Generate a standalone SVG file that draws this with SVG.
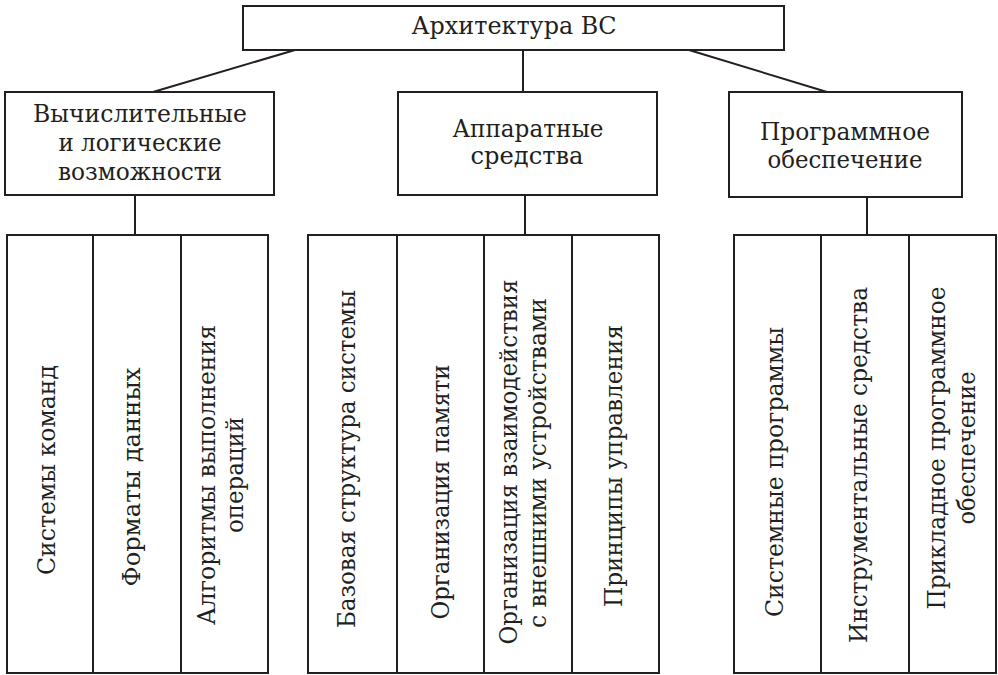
<svg xmlns="http://www.w3.org/2000/svg" width="998" height="675" viewBox="0 0 998 675">
<style>
.b{fill:#fff;stroke:#231f20;stroke-width:2}
.c{fill:none;stroke:#231f20;stroke-width:2}
.t{font-family:'DejaVu Serif Condensed','DejaVu Serif',serif;font-size:24px;fill:#231f20;text-anchor:middle}
</style>
<rect width="998" height="675" fill="#fff"/>
<g id="connectors">
<line class="c" x1="295" y1="50" x2="153" y2="92"/>
<line class="c" x1="523" y1="50" x2="523" y2="92"/>
<line class="c" x1="689" y1="50" x2="827" y2="92"/>
<line class="c" x1="135" y1="195" x2="135" y2="235"/>
<line class="c" x1="525" y1="195" x2="525" y2="235"/>
<line class="c" x1="867" y1="197" x2="867" y2="235"/>
</g>
<g id="root" class="t">
<rect class="b" x="243" y="6" width="541" height="44"/>
<text x="514" y="34" textLength="205" lengthAdjust="spacingAndGlyphs">Архитектура ВС</text>
</g>
<g id="compute" class="t">
<rect class="b" x="5" y="92" width="269" height="103"/>
<text x="140" y="122" textLength="214" lengthAdjust="spacingAndGlyphs">Вычислительные</text>
<text x="140" y="151" textLength="163" lengthAdjust="spacingAndGlyphs">и логические</text>
<text x="140" y="180" textLength="164" lengthAdjust="spacingAndGlyphs">возможности</text>
</g>
<g id="hardware" class="t">
<rect class="b" x="398" y="92" width="259" height="103"/>
<text x="528" y="137" textLength="151" lengthAdjust="spacingAndGlyphs">Аппаратные</text>
<text x="527" y="164" textLength="113" lengthAdjust="spacingAndGlyphs">средства</text>
</g>
<g id="software" class="t">
<rect class="b" x="729" y="92" width="233" height="105"/>
<text x="845" y="140" textLength="170" lengthAdjust="spacingAndGlyphs">Программное</text>
<text x="845" y="168" textLength="155" lengthAdjust="spacingAndGlyphs">обеспечение</text>
</g>
<g id="c1" class="t">
<rect class="b" x="7" y="235" width="86" height="438"/>
<text transform="translate(55,470) rotate(-90)" textLength="210" lengthAdjust="spacingAndGlyphs">Системы команд</text>
</g>
<g id="c2" class="t">
<rect class="b" x="93" y="235" width="88" height="438"/>
<text transform="translate(140,477) rotate(-90)" textLength="219" lengthAdjust="spacingAndGlyphs">Форматы данных</text>
</g>
<g id="c3" class="t">
<rect class="b" x="181" y="235" width="87" height="438"/>
<text transform="translate(215,475) rotate(-90)" textLength="300" lengthAdjust="spacingAndGlyphs">Алгоритмы выполнения</text>
<text transform="translate(243,475) rotate(-90)" textLength="116" lengthAdjust="spacingAndGlyphs">операций</text>
</g>
<g id="h1" class="t">
<rect class="b" x="308" y="235" width="89" height="438"/>
<text transform="translate(355,459) rotate(-90)" textLength="338" lengthAdjust="spacingAndGlyphs">Базовая структура системы</text>
</g>
<g id="h2" class="t">
<rect class="b" x="397" y="235" width="87" height="438"/>
<text transform="translate(449,492) rotate(-90)" textLength="255" lengthAdjust="spacingAndGlyphs">Организация памяти</text>
</g>
<g id="h3" class="t">
<rect class="b" x="484" y="235" width="88" height="438"/>
<text transform="translate(517,462) rotate(-90)" textLength="365" lengthAdjust="spacingAndGlyphs">Организация взаимодействия</text>
<text transform="translate(546,463) rotate(-90)" textLength="330" lengthAdjust="spacingAndGlyphs">с внешними устройствами</text>
</g>
<g id="h4" class="t">
<rect class="b" x="572" y="235" width="87" height="438"/>
<text transform="translate(622,466) rotate(-90)" textLength="282" lengthAdjust="spacingAndGlyphs">Принципы управления</text>
</g>
<g id="s1" class="t">
<rect class="b" x="734" y="235" width="87" height="438"/>
<text transform="translate(783,472) rotate(-90)" textLength="290" lengthAdjust="spacingAndGlyphs">Системные программы</text>
</g>
<g id="s2" class="t">
<rect class="b" x="821" y="235" width="88" height="438"/>
<text transform="translate(867,465) rotate(-90)" textLength="356" lengthAdjust="spacingAndGlyphs">Инструментальные средства</text>
</g>
<g id="s3" class="t">
<rect class="b" x="909" y="235" width="87" height="438"/>
<text transform="translate(945,448) rotate(-90)" textLength="323" lengthAdjust="spacingAndGlyphs">Прикладное программное</text>
<text transform="translate(975,448) rotate(-90)" textLength="153" lengthAdjust="spacingAndGlyphs">обеспечение</text>
</g>
</svg>
